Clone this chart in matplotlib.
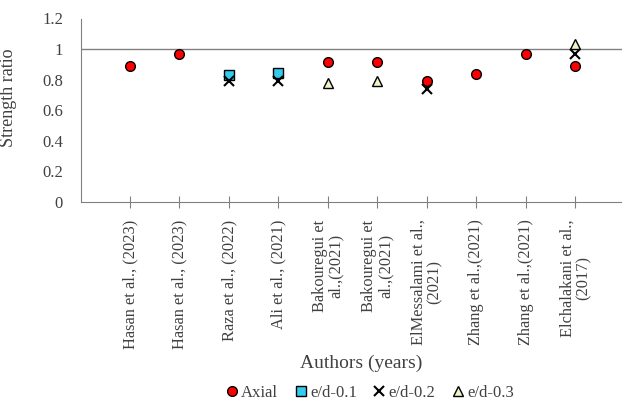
import numpy as np
import matplotlib.pyplot as plt

plt.rcParams["font.family"] = ["Liberation Serif", "DejaVu Serif"]

authors = [
    "Hasan et al., (2023)",
    "Hasan et al., (2023)",
    "Raza et al., (2022)",
    "Ali et al., (2021)",
    "Bakouregui et\nal.,(2021)",
    "Bakouregui et\nal.,(2021)",
    "ElMessalami et al.,\n(2021)",
    "Zhang et al.,(2021)",
    "Zhang et al.,(2021)",
    "Elchalakani et al.,\n(2017)",
]

# strength ratio per study, NaN where the load case was not tested
axial = [0.89, 0.965, np.nan, np.nan, 0.915, 0.915, 0.79, 0.835, 0.965, 0.89]
ed_01 = [np.nan, np.nan, 0.827, 0.84, np.nan, np.nan, np.nan, np.nan, np.nan, np.nan]
ed_02 = [np.nan, np.nan, 0.79, 0.79, np.nan, np.nan, 0.74, np.nan, np.nan, 0.97]
ed_03 = [np.nan, np.nan, np.nan, np.nan, 0.78, 0.79, np.nan, np.nan, np.nan, 1.03]

x = np.arange(len(authors))

fig = plt.figure(figsize=(6.22, 4.07), dpi=100)
ax = fig.add_axes([81 / 622, 1 - 201.5 / 407, 541 / 622, 183 / 407])

ax.axhline(1.0, color="#808080", lw=1.0, zorder=1)

ax.plot(x, axial, ls="none", marker="o", ms=7, mfc="#FF0000", mec="black",
        mew=1.0, label="Axial", zorder=3)
ax.plot(x, ed_01, ls="none", marker="s", ms=6.5, mfc="#33CCEE", mec="black",
        mew=1.0, label="e/d-0.1", zorder=3)
ax.plot(x, ed_02, ls="none", marker="x", ms=6.5, color="black",
        mew=1.5, label="e/d-0.2", zorder=4)
ax.plot(x, ed_03, ls="none", marker="^", ms=6.5, mfc="#F2F2C8", mec="black",
        mew=1.0, label="e/d-0.3", zorder=3)

ax.set_xlim(-0.99, 9.94)
ax.set_ylim(0, 1.2)
ax.set_yticks(np.arange(0, 1.21, 0.2))
ax.set_yticklabels(["0", "0.2", "0.4", "0.6", "0.8", "1", "1.2"])
ax.set_xticks(x)
ax.set_xticklabels(authors, rotation=90, ha="center", va="top",
                   multialignment="center", fontsize=11.8, color="#404040",
                   linespacing=1.0)

for side in ["top", "right"]:
    ax.spines[side].set_visible(False)
for side in ["left", "bottom"]:
    ax.spines[side].set_color("#808080")
ax.tick_params(axis="y", length=0, labelsize=12, colors="#404040", pad=13)
ax.tick_params(axis="x", direction="inout", length=8, color="#808080", pad=9)

ax.set_ylabel("Strength ratio", fontsize=13, color="#404040")
ax.yaxis.set_label_coords(-0.118, 0.565)
fig.text(361 / 622, 1 - 363 / 407, "Authors (years)", ha="center",
         va="center", fontsize=14, color="#404040")

fig.legend(loc="center", bbox_to_anchor=(370 / 622, 1 - 393 / 407), ncol=4,
           frameon=False, fontsize=12, handletextpad=0.2, columnspacing=1.0,
           handlelength=0.7, labelcolor="#404040")

fig.savefig("out.png", dpi=100)
